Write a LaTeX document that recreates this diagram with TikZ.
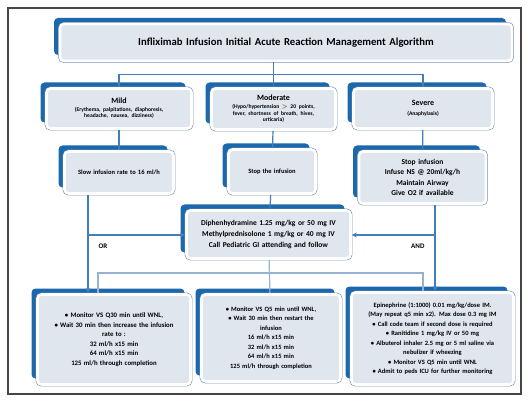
\documentclass[tikz,border=0pt]{standalone}
\usepackage{fontspec}
\setmainfont{Carlito}
\usetikzlibrary{shadows,arrows.meta}

\definecolor{shadowblue}{RGB}{28,104,172}
\definecolor{cardfill}{RGB}{224,230,238}
\definecolor{cardedge}{RGB}{118,146,180}
\definecolor{linkblue}{RGB}{66,126,188}
\definecolor{buslight}{RGB}{150,178,210}
\definecolor{framegray}{RGB}{70,70,70}

\newcommand\detail{\fontsize{5.6}{6.6}\selectfont}

\begin{document}
\begin{tikzpicture}[
    x=1pt, y=-1pt,
    card/.style={rectangle, rounded corners=4pt, align=center,
        general shadow={fill=shadowblue, shadow xshift=-6pt, shadow yshift=6pt},
        preaction={draw=cardedge, line width=3.8pt},
        fill=cardfill, draw=white, line width=2.6pt, inner sep=2pt,
        font=\bfseries\fontsize{8}{10}\selectfont},
    link/.style={draw=linkblue, line width=1.2pt},
    arrow/.style={link, -{Stealth[length=5pt,width=5pt]}},
    bus/.style={draw=buslight, line width=1.2pt},
    tag/.style={font=\bfseries\fontsize{7}{8}\selectfont}
]
    \useasboundingbox (0,0) rectangle (528,401);
    \draw[framegray, line width=1.5pt] (8,8) rectangle (521,394);

    % severity levels
    \node[card, text width=448pt, minimum height=37pt,
        font=\bfseries\fontsize{10.7}{12}\selectfont] (title) at (286,42.5)
        {Infliximab Infusion Initial Acute Reaction Management Algorithm};
    \node[card, text width=141pt, minimum height=40pt] (mild) at (119,108.5)
        {Mild\par\vspace{1pt}{\detail (Erythema, palpitations, diaphoresis,\\ headache, nausea, dizziness)\par}};
    \node[card, text width=120pt, minimum height=41pt] (moderate) at (273.5,109)
        {Moderate\par\vspace{1pt}{\detail (Hypo/hypertension $>$ 20 points,\\ fever, shortness of breath, hives,\\ urticaria)\par}};
    \node[card, text width=135pt, minimum height=40pt] (severe) at (423,108.5)
        {Severe\par\vspace{4pt}{\detail (Anaphylaxis)\par}};

    % first actions
    \node[card, text width=105pt, minimum height=42pt,
        font=\bfseries\fontsize{6.5}{8}\selectfont] (mildact) at (119,172.5)
        {Slow infusion rate to 16 ml/h};
    \node[card, text width=83pt, minimum height=44pt,
        font=\bfseries\fontsize{6.5}{8}\selectfont] (modact) at (272,171.5)
        {Stop the infusion};
    \node[card, text width=123pt, minimum height=52pt,
        font=\bfseries\fontsize{7.5}{10.5}\selectfont] (sevact) at (422.5,177.5)
        {Stop infusion\\ Infuse NS @ 20ml/kg/h\\ Maintain Airway\\ Give O2 if available};

    % medication
    \node[card, text width=160pt, minimum height=48pt,
        font=\bfseries\fontsize{7.5}{11}\selectfont] (meds) at (268.5,234.5)
        {Diphenhydramine 1.25 mg/kg or 50 mg IV\\ Methylprednisolone 1 mg/kg or 40 mg IV\\ Call Pediatric GI attending and follow};

    % follow up
    \node[card, text width=149pt, minimum height=90pt,
        font=\bfseries\fontsize{6.8}{9.5}\selectfont] (botleft) at (114,339.5)
        {• Monitor VS Q30 min until WNL,\\ • Wait 30 min then increase the infusion\\ rate to :\\ 32 ml/h x15 min\\ 64 ml/h x15 min\\ 125 ml/h through completion\par\vspace{28pt}};
    \node[card, text width=135pt, minimum height=87pt,
        font=\bfseries\fontsize{6.5}{9.5}\selectfont] (botmid) at (271,338)
        {• Monitor VS Q5 min until WNL,\\ • Wait 30 min then restart the\\ infusion\\ 16 ml/h x15 min\\ 32 ml/h x15 min\\ 64 ml/h x15 min\\ 125 ml/h through completion};
    \node[card, text width=158pt, minimum height=92pt,
        font=\bfseries\fontsize{6.5}{9.5}\selectfont] (botright) at (432.5,338.5)
        {Epinephrine (1:1000) 0.01 mg/kg/dose IM.\\ (May repeat q5 min x2). Max dose 0.3 mg IM\\
         • Call code team if second dose is required\\ • Ranitidine 1 mg/kg IV or 50 mg\\
         • Albuterol inhaler 2.5 mg or 5 ml saline via\\ nebulizer if wheezing\\
         • Monitor VS Q5 min until WNL\\ • Admit to peds ICU for further monitoring};

    % connectors
    \coordinate (orL) at (88,235);
    \coordinate (andR) at (435,235);
    \coordinate (busL) at (98,273);
    \coordinate (busR) at (423,273);
    \draw[link] (mild.north) -- ++(0,-13) -| (severe.north);
    \draw[link] (title.south -| moderate) -- (moderate);
    \draw[link] (mild) -- (mildact);
    \draw[link] (moderate) -- (modact);
    \draw[link] (severe) -- (sevact);
    \draw[link] (modact) -- (meds);
    \draw[arrow] (orL |- mildact.south) -- (orL |- botleft.north);
    \draw[arrow] (andR |- sevact.south) -- (andR |- botright.north);
    \draw[arrow] (orL) -- (orL -| meds.west);
    \draw[arrow] (andR) -- (andR -| meds.east);
    \draw[bus] (meds) -- (botmid);
    \draw[bus] (busL |- botleft.north) |- (busR) -- (busR |- botright.north);
    \node[tag, anchor=west] (ortag) at (95,246) {OR};
    \node[tag, anchor=east] (andtag) at (428,246) {AND};
\end{tikzpicture}
\end{document}
